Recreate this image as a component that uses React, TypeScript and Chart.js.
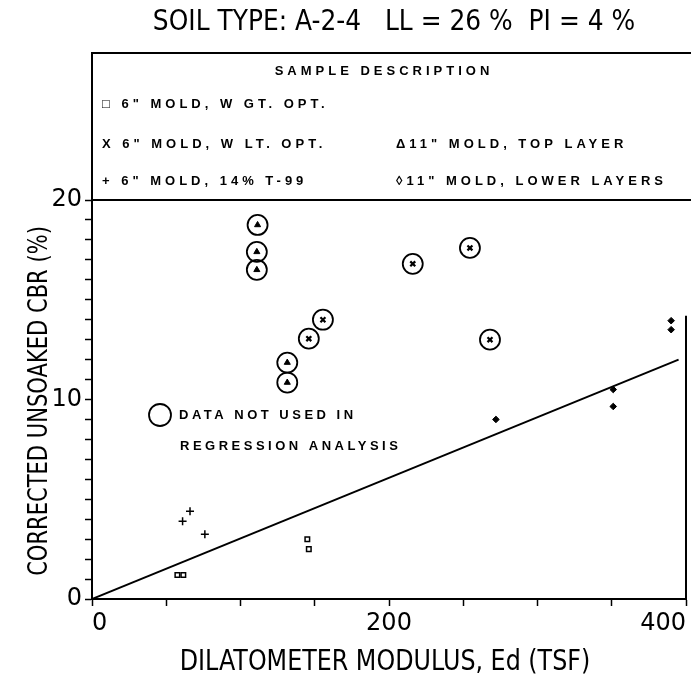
import { useEffect, useRef } from "react";
import { Chart, registerables } from "chart.js";
Chart.register(...registerables);

// ---- data ----
const squareX = [57.5, 61.5, 145, 146];
const squareY = [1.2, 1.2, 3.0, 2.5];
const plusX = [61, 66, 76];
const plusY = [3.9, 4.4, 3.25];
const crossX = [146, 155.5, 216, 254.5, 268];
const crossY = [13.05, 14.0, 16.8, 17.6, 13.0];
const triX = [111.5, 111, 111, 131.5, 131.5];
const triY = [18.75, 17.4, 16.5, 11.85, 10.85];
const diamondX = [272, 351, 351, 390, 390];
const diamondY = [9.0, 10.5, 9.65, 13.95, 13.5];
const lineX = [0, 395];
const lineY = [0, 12];
const xLabeledTicks = [0, 200, 400];
const yLabeledTicks = [0, 10, 20];

const titleText = "SOIL TYPE: A-2-4   LL = 26 %  PI = 4 %";
const xTitle = "DILATOMETER MODULUS, Ed (TSF)";
const yTitle = "CORRECTED UNSOAKED CBR (%)";
const legendHeader = "SAMPLE DESCRIPTION";
const legendLeft = ['\u25A1 6" MOLD, W GT. OPT.', 'X 6" MOLD, W LT. OPT.', '+ 6" MOLD, 14% T-99'];
const legendRight = ['', '\u039411" MOLD, TOP LAYER', '\u25CA11" MOLD, LOWER LAYERS'];
const noteLines = ["DATA NOT USED IN", "REGRESSION ANALYSIS"];

const SANS = "'DejaVu Sans', sans-serif";
const BOLD = "'Liberation Sans', Arial, sans-serif";

const pts = (xs: number[], ys: number[]) => xs.map((v, i) => ({ x: v, y: ys[i] }));

const decor = {
  id: "decor",
  afterDraw(chart: any) {
    const { ctx, chartArea } = chart;
    const { left, right, top, bottom } = chartArea;
    const yS = chart.scales.y;
    ctx.save();
    ctx.strokeStyle = "#000";
    ctx.lineWidth = 2;
    const boxTop = 53;
    ctx.beginPath();
    ctx.moveTo(left, top);
    ctx.lineTo(left, boxTop);
    ctx.lineTo(chart.width, boxTop);
    ctx.moveTo(left, top);
    ctx.lineTo(chart.width, top);
    ctx.moveTo(right, bottom);
    ctx.lineTo(right, yS.getPixelForValue(14.2));
    ctx.stroke();

    ctx.fillStyle = "#000";
    ctx.textAlign = "center";
    ctx.textBaseline = "middle";

    // title (condensed look)
    ctx.save();
    ctx.font = `28px ${SANS}`;
    ctx.translate(394, 23);
    ctx.scale(0.89, 1);
    ctx.fillText(titleText, 0, 0);
    ctx.restore();

    // x axis title (condensed look)
    ctx.save();
    ctx.font = `28px ${SANS}`;
    ctx.translate(385, 663);
    ctx.scale(0.85, 1);
    ctx.fillText(xTitle, 0, 0);
    ctx.restore();

    // y axis title (condensed look)
    ctx.save();
    ctx.font = `26px ${SANS}`;
    ctx.translate(40, 401);
    ctx.rotate(-Math.PI / 2);
    ctx.scale(0.81, 1);
    ctx.fillText(yTitle, 0, 0);
    ctx.restore();

    // legend text
    ctx.font = `bold 13px ${BOLD}`;
    (ctx as any).letterSpacing = "4px";
    ctx.fillText(legendHeader, 384, 71);
    ctx.textAlign = "left";
    const rowsY = [104, 144, 181];
    legendLeft.forEach((t, i) => ctx.fillText(t, 102, rowsY[i]));
    legendRight.forEach((t, i) => t && ctx.fillText(t, 396, rowsY[i]));

    // note
    ctx.beginPath();
    ctx.lineWidth = 1.8;
    ctx.arc(160, 415, 11, 0, Math.PI * 2);
    ctx.stroke();
    (ctx as any).letterSpacing = "3.5px";
    ctx.fillText(noteLines[0], 179, 415);
    ctx.fillText(noteLines[1], 180, 446);
    ctx.restore();
  },
};

export default function App() {
  const ref = useRef<HTMLCanvasElement>(null);
  useEffect(() => {
    document.body.style.margin = "0";
    const tickFont = { family: SANS, size: 24 };
    const grid = { drawOnChartArea: false, drawTicks: true, tickLength: 7, tickColor: "#000", tickWidth: 1.5 };
    const border = { display: true, color: "#000", width: 2 };
    const chart = new Chart(ref.current!, {
      type: "scatter",
      data: {
        datasets: [
          { type: "line", data: pts(lineX, lineY), borderColor: "#000", borderWidth: 2, pointRadius: 0, fill: false } as any,
          { data: pts(squareX, squareY), pointStyle: "rect", pointRadius: 3.2, borderWidth: 1.5, borderColor: "#000", backgroundColor: "rgba(0,0,0,0)" },
          { data: pts(plusX, plusY), pointStyle: "cross", pointRadius: 4, borderWidth: 1.5, borderColor: "#000" },
          { data: pts(triX, triY), pointStyle: "triangle", pointRadius: 3.5, borderWidth: 1, borderColor: "#000", backgroundColor: "#000" },
          { data: pts(triX, triY), pointStyle: "circle", pointRadius: 10, borderWidth: 1.8, borderColor: "#000", backgroundColor: "rgba(0,0,0,0)" },
          { data: pts(crossX, crossY), pointStyle: "crossRot", pointRadius: 3.5, borderWidth: 2.2, borderColor: "#000" },
          { data: pts(crossX, crossY), pointStyle: "circle", pointRadius: 10, borderWidth: 1.8, borderColor: "#000", backgroundColor: "rgba(0,0,0,0)" },
          { data: pts(diamondX, diamondY), pointStyle: "rectRot", pointRadius: 3.3, borderWidth: 1, borderColor: "#000", backgroundColor: "#000" },
        ],
      },
      options: {
        animation: false,
        responsive: false,
        layout: { autoPadding: false, padding: { top: 200, right: 5, left: 0, bottom: 0 } },
        plugins: { legend: { display: false }, tooltip: { enabled: false } },
        scales: {
          x: {
            type: "linear",
            min: 0,
            max: 400,
            ticks: {
              stepSize: 50,
              autoSkip: false,
              maxRotation: 0,
              align: "inner",
              color: "#000",
              font: tickFont,
              padding: 3,
              callback: (v: any) => (xLabeledTicks.includes(v) ? String(v) : ""),
            },
            grid,
            border,
            title: { display: false, text: xTitle },
            afterFit: (s: any) => {
              s.height = 82;
              s.paddingLeft = 0;
              s.paddingRight = 0;
            },
          },
          y: {
            type: "linear",
            min: 0,
            max: 20,
            ticks: {
              stepSize: 1,
              autoSkip: false,
              color: "#000",
              font: tickFont,
              padding: 3,
              callback: (v: any) => (yLabeledTicks.includes(v) ? String(v) : ""),
            },
            grid,
            border,
            title: { display: false, text: yTitle },
            afterFit: (s: any) => {
              s.width = 92;
              s.paddingTop = 0;
              s.paddingBottom = 0;
            },
          },
        },
      },
      plugins: [decor],
    } as any);
    return () => chart.destroy();
  }, []);
  return <canvas ref={ref} width={691} height={681} />;
}
